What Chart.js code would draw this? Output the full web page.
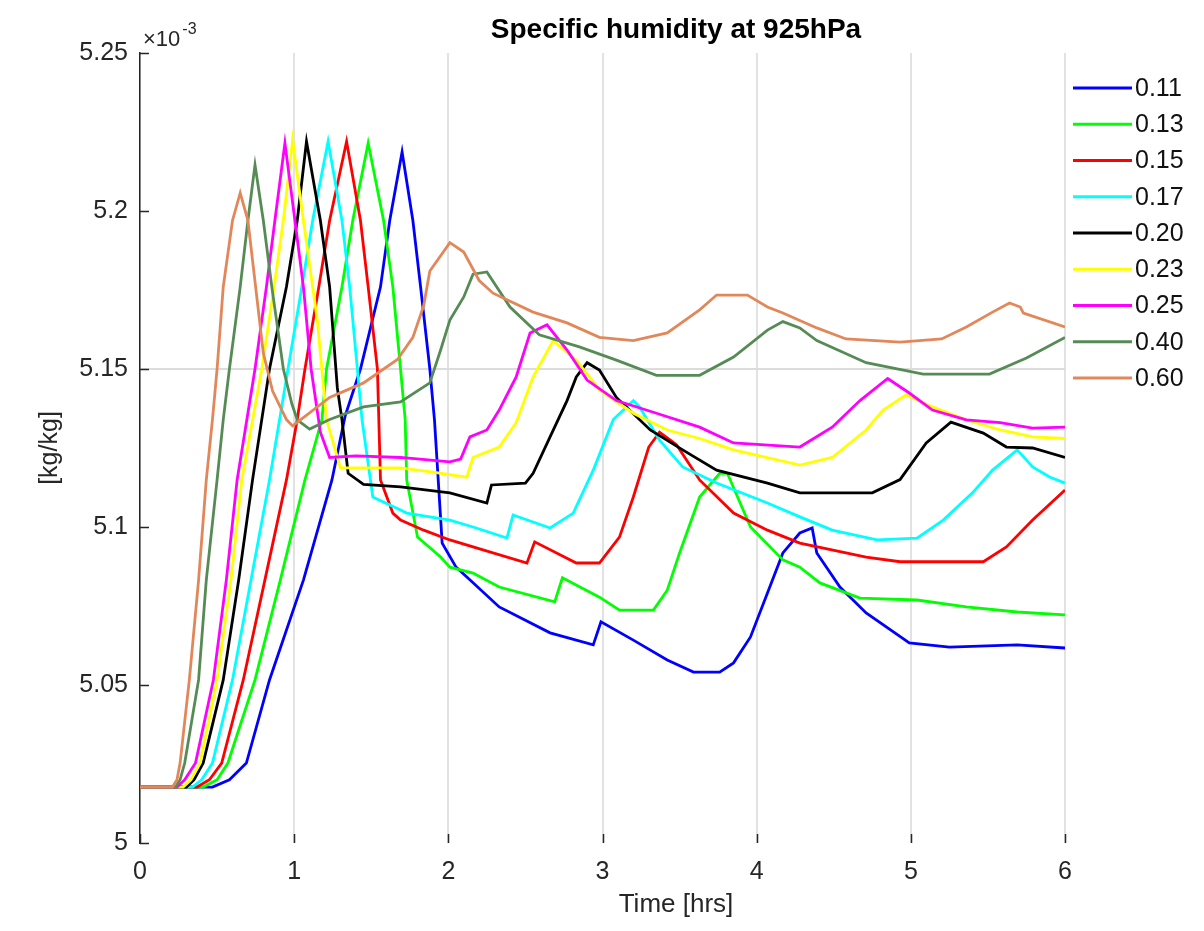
<!DOCTYPE html>
<html>
<head>
<meta charset="utf-8">
<title>Specific humidity at 925hPa</title>
<script src="https://cdn.jsdelivr.net/npm/chart.js@4.4.1/dist/chart.umd.min.js"></script>
<style>
  body { margin: 0; background: #fff; }
  #wrap { width: 1204px; height: 931px; }
</style>
</head>
<body>
<div id="wrap"><canvas id="humidityChart" width="1204" height="931"></canvas></div>
<script>
// series labels and colours (legend order)
const seriesLabels = ['0.11', '0.13', '0.15', '0.17', '0.20', '0.23', '0.25', '0.40', '0.60'];
const seriesColors = ['#0000ff', '#00ff00', '#ff0000', '#00ffff', '#000000', '#ffff00', '#ff00ff', '#568b55', '#e2875a'];

// [time in hrs, specific humidity x 1e-3 kg/kg]
const q011 = [[0,5.0177],[0.47,5.0177],[0.58,5.020],[0.69,5.0253],[0.84,5.0516],[1.06,5.0832],[1.245,5.1149],[1.33,5.135],[1.43,5.15],[1.56,5.176],[1.62,5.197],[1.70,5.2187],[1.77,5.197],[1.82,5.176],[1.88,5.15],[1.91,5.134],[1.96,5.0949],[2.05,5.0873],[2.12,5.0842],[2.33,5.0747],[2.66,5.0665],[2.94,5.0627],[2.99,5.070],[3.20,5.0642],[3.42,5.0579],[3.59,5.0541],[3.76,5.0541],[3.85,5.057],[3.96,5.0652],[4.07,5.0791],[4.17,5.0918],[4.28,5.0981],[4.36,5.0997],[4.39,5.0918],[4.54,5.081],[4.71,5.0728],[4.99,5.0633],[5.25,5.062],[5.69,5.0627],[6.0,5.0617]];
const q013 = [[0,5.0177],[0.41,5.0177],[0.50,5.020],[0.57,5.0253],[0.746,5.0516],[0.91,5.0832],[1.07,5.1149],[1.18,5.134],[1.21,5.15],[1.31,5.176],[1.38,5.197],[1.48,5.2215],[1.58,5.197],[1.64,5.176],[1.69,5.15],[1.72,5.134],[1.73,5.1149],[1.80,5.0968],[1.95,5.0905],[2.01,5.0873],[2.16,5.0854],[2.33,5.081],[2.69,5.0763],[2.74,5.0839],[2.98,5.0778],[3.11,5.0737],[3.33,5.0737],[3.42,5.080],[3.50,5.0918],[3.63,5.1095],[3.76,5.117],[3.81,5.117],[3.96,5.100],[4.17,5.0896],[4.28,5.0873],[4.41,5.0823],[4.67,5.0775],[5.04,5.0769],[5.36,5.0747],[5.69,5.0731],[6.0,5.0722]];
const q015 = [[0,5.0177],[0.37,5.0177],[0.45,5.020],[0.53,5.0253],[0.67,5.0516],[0.81,5.0832],[0.95,5.1149],[1.02,5.134],[1.07,5.15],[1.16,5.176],[1.23,5.197],[1.34,5.222],[1.43,5.197],[1.48,5.176],[1.54,5.15],[1.56,5.1149],[1.64,5.1044],[1.69,5.1022],[1.84,5.099],[2.01,5.0959],[2.16,5.0937],[2.51,5.0886],[2.56,5.0953],[2.83,5.0886],[2.98,5.0886],[3.11,5.0968],[3.20,5.1095],[3.30,5.1253],[3.37,5.130],[3.48,5.126],[3.63,5.1149],[3.85,5.1044],[4.07,5.099],[4.28,5.0949],[4.71,5.0905],[4.93,5.089],[5.47,5.089],[5.62,5.0937],[5.79,5.1022],[6.0,5.1117]];
const q017 = [[0,5.0177],[0.34,5.0177],[0.40,5.020],[0.47,5.0253],[0.60,5.0516],[0.72,5.0832],[0.84,5.1149],[0.96,5.15],[1.05,5.176],[1.12,5.197],[1.22,5.222],[1.31,5.197],[1.36,5.176],[1.41,5.15],[1.44,5.134],[1.51,5.1095],[1.69,5.1054],[1.73,5.1044],[2.01,5.1022],[2.16,5.100],[2.38,5.0965],[2.42,5.1038],[2.66,5.0997],[2.81,5.1044],[2.94,5.118],[3.07,5.134],[3.20,5.140],[3.24,5.138],[3.37,5.1275],[3.52,5.119],[3.74,5.1139],[4.07,5.1076],[4.28,5.1032],[4.49,5.099],[4.78,5.0959],[5.04,5.0965],[5.21,5.1022],[5.40,5.1108],[5.53,5.118],[5.69,5.1244],[5.79,5.119],[5.90,5.1158],[6.0,5.1139]];
const q020 = [[0,5.0177],[0.30,5.0177],[0.35,5.020],[0.41,5.0253],[0.54,5.0516],[0.64,5.0832],[0.73,5.1149],[0.84,5.15],[0.95,5.176],[1.02,5.197],[1.08,5.222],[1.17,5.197],[1.23,5.176],[1.28,5.144],[1.31,5.134],[1.35,5.117],[1.45,5.1135],[1.69,5.1127],[2.01,5.1108],[2.25,5.1076],[2.28,5.1133],[2.50,5.1139],[2.55,5.117],[2.66,5.1285],[2.77,5.140],[2.83,5.1475],[2.90,5.152],[2.98,5.1497],[3.09,5.141],[3.31,5.1307],[3.52,5.1244],[3.74,5.118],[4.07,5.1139],[4.28,5.1108],[4.75,5.1108],[4.93,5.115],[5.10,5.1266],[5.26,5.1332],[5.47,5.1297],[5.62,5.1253],[5.79,5.125],[6.0,5.122]];
const q023 = [[0,5.0177],[0.28,5.0177],[0.33,5.020],[0.39,5.0253],[0.50,5.0516],[0.59,5.0832],[0.66,5.1149],[0.79,5.15],[0.87,5.176],[0.93,5.197],[0.99,5.2225],[1.06,5.197],[1.15,5.1655],[1.21,5.134],[1.30,5.1187],[1.69,5.1187],[1.90,5.1174],[2.12,5.1158],[2.16,5.122],[2.33,5.1253],[2.44,5.133],[2.55,5.1475],[2.68,5.159],[2.83,5.1528],[2.98,5.1434],[3.20,5.136],[3.42,5.1307],[3.63,5.128],[3.85,5.1244],[4.28,5.1196],[4.49,5.122],[4.71,5.1307],[4.82,5.137],[4.97,5.1418],[5.14,5.138],[5.36,5.1339],[5.58,5.1307],[5.79,5.1285],[6.0,5.128]];
const q025 = [[0,5.0177],[0.24,5.0177],[0.29,5.020],[0.36,5.0253],[0.476,5.0516],[0.56,5.0832],[0.63,5.1149],[0.746,5.15],[0.82,5.176],[0.875,5.197],[0.94,5.2215],[1.005,5.197],[1.06,5.176],[1.11,5.15],[1.17,5.13],[1.23,5.122],[1.40,5.1225],[1.69,5.122],[2.01,5.1206],[2.08,5.1215],[2.14,5.1285],[2.25,5.1307],[2.33,5.137],[2.44,5.1475],[2.53,5.1614],[2.64,5.164],[2.77,5.156],[2.90,5.1465],[3.09,5.140],[3.35,5.136],[3.63,5.1316],[3.85,5.1266],[4.28,5.1253],[4.49,5.1316],[4.67,5.140],[4.85,5.147],[4.99,5.1424],[5.14,5.137],[5.36,5.1339],[5.58,5.133],[5.79,5.1313],[6.0,5.1316]];
const q040 = [[0,5.0177],[0.23,5.0177],[0.26,5.020],[0.29,5.0253],[0.38,5.0516],[0.43,5.0832],[0.50,5.1149],[0.54,5.134],[0.58,5.15],[0.65,5.176],[0.70,5.197],[0.746,5.2146],[0.80,5.197],[0.855,5.176],[0.93,5.15],[0.985,5.139],[1.02,5.1339],[1.10,5.131],[1.23,5.134],[1.45,5.138],[1.69,5.1396],[1.88,5.1456],[1.95,5.156],[2.01,5.1655],[2.10,5.1728],[2.16,5.180],[2.25,5.1807],[2.40,5.1696],[2.59,5.1608],[2.85,5.157],[3.09,5.1528],[3.35,5.148],[3.63,5.148],[3.85,5.1538],[4.07,5.1623],[4.17,5.165],[4.28,5.163],[4.39,5.159],[4.71,5.152],[5.08,5.1484],[5.51,5.1484],[5.75,5.1535],[6.0,5.160]];
const q060 = [[0,5.0177],[0.21,5.0177],[0.24,5.020],[0.26,5.0253],[0.32,5.0516],[0.38,5.0832],[0.43,5.1149],[0.47,5.134],[0.50,5.15],[0.54,5.176],[0.60,5.197],[0.65,5.2057],[0.70,5.197],[0.75,5.176],[0.80,5.155],[0.86,5.143],[0.95,5.134],[0.99,5.132],[1.23,5.141],[1.45,5.1456],[1.67,5.153],[1.77,5.160],[1.84,5.170],[1.88,5.181],[2.01,5.190],[2.10,5.187],[2.20,5.178],[2.29,5.174],[2.55,5.168],[2.77,5.1646],[2.98,5.160],[3.20,5.159],[3.42,5.1614],[3.63,5.1687],[3.74,5.1734],[3.94,5.1734],[4.07,5.1696],[4.17,5.1677],[4.39,5.163],[4.58,5.1595],[4.93,5.1585],[5.20,5.1595],[5.36,5.1633],[5.53,5.168],[5.64,5.1709],[5.71,5.1696],[5.73,5.1677],[6.0,5.1633]];

const seriesData = [q011, q013, q015, q017, q020, q023, q025, q040, q060];

const xTicks = [0, 1, 2, 3, 4, 5, 6];
const yTicks = [5, 5.05, 5.1, 5.15, 5.2, 5.25];
const gridLevel = 5.15;

const fontFamily = '"Liberation Sans", Arial, Helvetica, sans-serif';
const textColor = '#262626';

// title, x label, exponent, inward ticks and legend
const extrasPlugin = {
    id: 'extras',
    afterDraw(chart) {
        const ctx = chart.ctx;
        const area = chart.chartArea;
        const xs = chart.scales.x;
        const ys = chart.scales.y;
        ctx.save();

        ctx.strokeStyle = textColor;
        ctx.lineWidth = 1.5;
        ctx.beginPath();
        xTicks.forEach(function(t) {
            const px = Math.round(xs.getPixelForValue(t)) + 0.5;
            ctx.moveTo(px, area.bottom);
            ctx.lineTo(px, area.bottom - 9);
        });
        yTicks.forEach(function(v) {
            const py = Math.round(ys.getPixelForValue(v)) + 0.5;
            ctx.moveTo(area.left, py);
            ctx.lineTo(area.left + 9, py);
        });
        ctx.stroke();

        ctx.fillStyle = '#000';
        ctx.textAlign = 'center';
        ctx.textBaseline = 'middle';
        ctx.font = 'bold 28px ' + fontFamily;
        ctx.fillText('Specific humidity at 925hPa', 676, 30);

        ctx.fillStyle = textColor;
        ctx.font = '26px ' + fontFamily;
        ctx.fillText('Time [hrs]', 676, 905);

        ctx.textAlign = 'left';
        ctx.textBaseline = 'alphabetic';
        ctx.font = '22px ' + fontFamily;
        ctx.fillText('\u00d710', 143, 46);
        const w = ctx.measureText('\u00d710').width;
        ctx.font = '16px ' + fontFamily;
        ctx.fillText('-3', 143 + w + 2, 34);

        // legend
        ctx.font = '25px ' + fontFamily;
        ctx.textBaseline = 'middle';
        chart.data.datasets.forEach(function(ds, i) {
            const y = 88 + i * 36.25;
            ctx.strokeStyle = ds.borderColor;
            ctx.lineWidth = 3;
            ctx.beginPath();
            ctx.moveTo(1073, y);
            ctx.lineTo(1132, y);
            ctx.stroke();
            ctx.fillStyle = '#111';
            ctx.fillText(ds.label, 1135, y + 1);
        });
        ctx.restore();
    }
};

const ctxHumidity = document.getElementById('humidityChart').getContext('2d');

new Chart(ctxHumidity, {
    type: 'line',
    data: {
        datasets: seriesData.map(function(points, i) {
            return {
                label: seriesLabels[i],
                data: points.map(function(p) { return { x: p[0], y: p[1] }; }),
                borderColor: seriesColors[i],
                borderWidth: 2.8,
                pointRadius: 0,
                tension: 0,
                fill: false,
                order: seriesData.length - i
            };
        })
    },
    options: {
        responsive: false,
        animation: false,
        layout: {
            padding: { top: 53, right: 139, bottom: 0, left: 0 }
        },
        scales: {
            x: {
                type: 'linear',
                min: 0,
                max: 6,
                afterBuildTicks: function(scale) {
                    scale.ticks = xTicks.map(function(v) { return { value: v }; });
                },
                afterFit: function(scale) {
                    scale.height = 88;
                },
                border: { display: false },
                grid: {
                    color: '#e2e2e2',
                    lineWidth: 2,
                    drawTicks: false
                },
                ticks: {
                    padding: 14,
                    color: textColor,
                    font: { size: 25, family: fontFamily }
                }
            },
            y: {
                min: 5,
                max: 5.25,
                afterBuildTicks: function(scale) {
                    scale.ticks = yTicks.map(function(v) { return { value: v }; });
                },
                afterFit: function(scale) {
                    scale.width = 140;
                },
                border: { display: true, color: textColor, width: 1.5 },
                grid: {
                    color: function(c) {
                        return (c.tick && Math.abs(c.tick.value - gridLevel) < 1e-9) ? '#dcdcdc' : 'rgba(0,0,0,0)';
                    },
                    lineWidth: 2,
                    drawTicks: false
                },
                ticks: {
                    padding: 12,
                    color: textColor,
                    font: { size: 25, family: fontFamily },
                    callback: function(value) {
                        return String(parseFloat(value.toFixed(2)));
                    }
                },
                title: {
                    display: true,
                    text: '[kg/kg]',
                    color: textColor,
                    font: { size: 25, family: fontFamily },
                    padding: { top: 35, bottom: 0 }
                }
            }
        },
        plugins: {
            legend: { display: false },
            tooltip: { enabled: false }
        }
    },
    plugins: [extrasPlugin]
});
</script>
</body>
</html>
